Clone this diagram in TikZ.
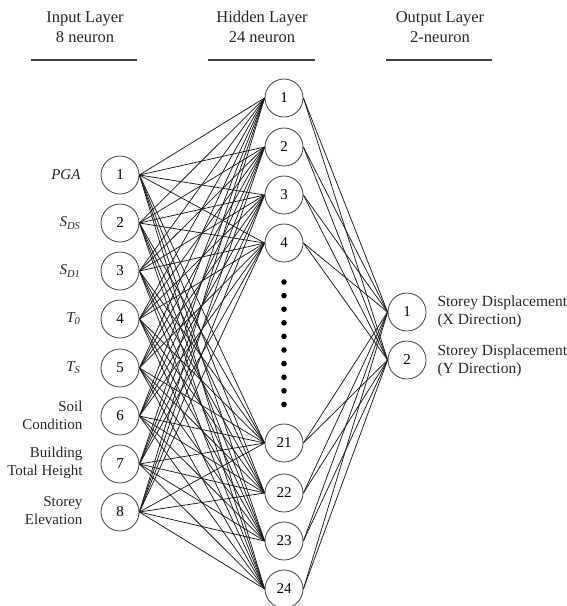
\documentclass[tikz,border=0pt]{standalone}
\usepackage{fontspec}
\setmainfont{Liberation Serif}
\usetikzlibrary{calc}
\tikzset{
	neuron/.style={draw=black!75,line width=0.8pt,circle,minimum size=38pt,inner sep=0pt,font=\fontsize{15}{18}\selectfont},
	synapse/.style={black!90,line width=0.75pt},
	inlabel/.style={anchor=east,align=right,font=\fontsize{15}{18}\selectfont,text=black!85},
	outlabel/.style={anchor=west,align=left,font=\fontsize{15.5}{18.5}\selectfont,text=black!85},
	head/.style={align=center,font=\fontsize{16.5}{20}\selectfont,text=black!85}
}
\begin{document}
\begin{tikzpicture}[x=1pt,y=-1pt]
					\useasboundingbox (0,0) rectangle (567,606);
					%HEADERS
					\node[head] (hin) at (85,27) {Input Layer\\8 neuron};
					\node[head] (hhid) at (262,27) {Hidden Layer\\24 neuron};
					\node[head] (hout) at (440,27) {Output Layer\\2-neuron};
					\draw[line width=1.4pt,black!75] (31,60) -- (137,60);
					\draw[line width=1.4pt,black!75] (208,60) -- (315,60);
					\draw[line width=1.4pt,black!75] (386,60) -- (492,60);
					%INPUT LAYER
					\foreach \i/\y in {1/175,2/223,3/271,4/319,5/368,6/416,7/464,8/512}
						\node[neuron] (in\i) at (120,\y) {\i};
					\node[inlabel] (lbl1) at (84,175) {\textit{PGA}};
					\node[inlabel] (lbl2) at (84,223) {\textit{S\textsubscript{DS}}};
					\node[inlabel] (lbl3) at (84,271) {\textit{S\textsubscript{D1}}};
					\node[inlabel] (lbl4) at (84,319) {\textit{T\textsubscript{0}}};
					\node[inlabel] (lbl5) at (84,368) {\textit{T\textsubscript{S}}};
					\node[inlabel] (lbl6) at (86,415) {Soil\\Condition};
					\node[inlabel] (lbl7) at (86,463) {Building\\Total Height};
					\node[inlabel] (lbl8) at (86,511) {Storey\\Elevation};
					%HIDDEN LAYER
					\foreach \i/\y in {1/98,2/147,3/195,4/243,21/443,22/493,23/541,24/589}
						\node[neuron] (hid\i) at (284,\y) {\i};
					\foreach \k in {0,...,9}
						\fill[black] (284,{282+13.6*\k}) circle (2.8);
					%OUTPUT LAYER
					\node[neuron] (out1) at (407,312) {1};
					\node[neuron] (out2) at (407,360) {2};
					\node[outlabel] (olbl1) at (434,312) {Storey Displacement\\(X Direction)};
					\node[outlabel] (olbl2) at (434,361) {Storey Displacement\\(Y Direction)};
					%CONNECTIONS
					\foreach \i in {1,...,8}
						\foreach \j in {1,2,3,4,21,22,23,24}
							\draw[synapse] (in\i.east) -- (hid\j.west);
					\foreach \j in {1,2,3,4,21,22,23,24}
						\foreach \o in {1,2}
							\draw[synapse] (hid\j.east) -- (out\o.west);
\end{tikzpicture}
\end{document}
